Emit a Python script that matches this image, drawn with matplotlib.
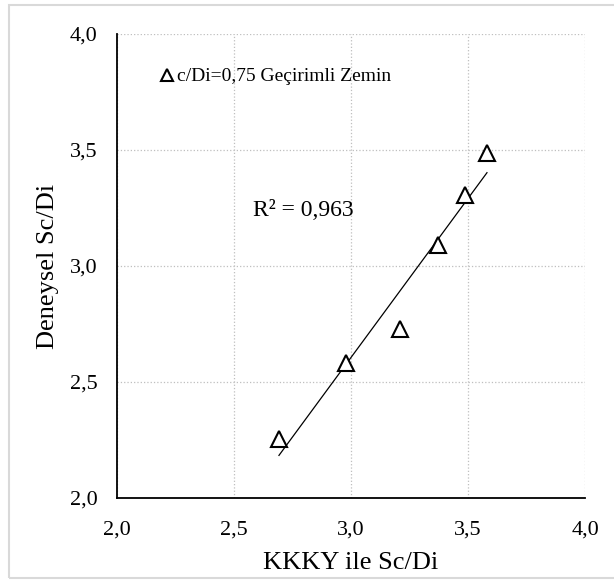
import matplotlib
matplotlib.use("Agg")
import matplotlib.pyplot as plt
import numpy as np
from matplotlib.patches import Rectangle

x_vals = [2.692, 2.980, 3.208, 3.373, 3.487, 3.581]
y_vals = [2.253, 2.581, 2.727, 3.091, 3.306, 3.487]
ticks = [2.0, 2.5, 3.0, 3.5, 4.0]
tick_labels = ["2,0", "2,5", "3,0", "3,5", "4,0"]
series_label = "c/Di=0,75 Geçirimli Zemin"
r2_text = "R² = 0,963"

plt.rcParams['font.family'] = ['Liberation Serif', 'DejaVu Serif']

fig = plt.figure(figsize=(6.14, 5.81), dpi=100)
ax = fig.add_axes([0.1906, 0.1429, 0.7622, 0.7986])

ax.set_xlim(2.0, 4.0)
ax.set_ylim(2.0, 4.0)
ax.set_xticks(ticks)
ax.set_yticks(ticks)
ax.set_xticklabels(tick_labels)
ax.set_yticklabels(tick_labels)
ax.tick_params(length=0, labelsize=16)
ax.tick_params(axis='x', pad=16)
ax.tick_params(axis='y', pad=14)
ax.grid(True, color='#bfbfbf', linestyle=':', linewidth=0.9)
ax.set_axisbelow(True)
for s in ['top', 'right']:
    ax.spines[s].set_visible(False)
for s in ['left', 'bottom']:
    ax.spines[s].set_linewidth(1.3)

ax.plot(x_vals, y_vals, linestyle='none', marker='^', markersize=11,
        markerfacecolor='white', markeredgecolor='black', markeredgewidth=1.5,
        label=series_label, zorder=3)

xa = np.array(x_vals); ya = np.array(y_vals)
m, b = np.polyfit(xa, ya, 1)
xx = np.array([xa.min(), xa.max()])
ax.plot(xx, m * xx + b, color='black', linewidth=0.9, zorder=2)

ax.text(2.58, 3.24, r2_text, fontsize=17, va='center', ha='left')

leg = ax.legend(loc='upper left', bbox_to_anchor=(0.058, 0.965), frameon=False,
                fontsize=14, handlelength=0.5, handletextpad=0.3,
                markerscale=0.75)

ax.set_xlabel("KKKY ile Sc/Di", fontsize=19, labelpad=9)
ax.set_ylabel("Deneysel Sc/Di", fontsize=19, labelpad=8)

fig.patches.append(Rectangle((9 / 614, 3 / 581), 1.2, 1 - 8 / 581, transform=fig.transFigure,
                             fill=False, edgecolor='#d9d9d9', linewidth=1.5, clip_on=True))

fig.savefig("out.png", dpi=100)
